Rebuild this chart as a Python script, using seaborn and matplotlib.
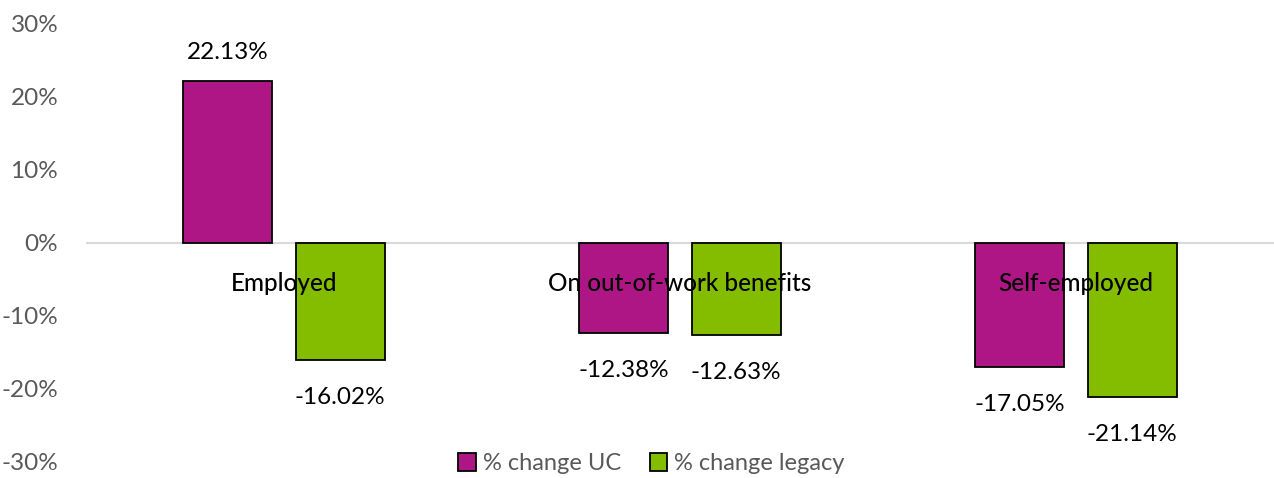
import matplotlib
matplotlib.use("Agg")
import matplotlib.pyplot as plt
import seaborn as sns
import pandas as pd

categories = ["Employed", "On out-of-work benefits", "Self-employed"]
uc_values = [22.13, -12.38, -17.05]
legacy_values = [-16.02, -12.63, -21.14]
series_names = ["% change UC", "% change legacy"]
yticks = [-30, -20, -10, 0, 10, 20, 30]

sns.set_theme(style="white")
plt.rcParams['font.family'] = ['Lato', 'DejaVu Sans']

df = pd.DataFrame({
    "category": categories * 2,
    "series": [series_names[0]] * 3 + [series_names[1]] * 3,
    "value": uc_values + legacy_values,
})

FS = 17.5
fig = plt.figure(figsize=(12.74, 4.78), dpi=100)
ax = fig.add_axes([0.0675, 0.0335, 0.9325, 0.9165])
palette = {series_names[0]: "#AF1685", series_names[1]: "#84BC00"}
sns.barplot(data=df, x="category", y="value", hue="series", order=categories,
            hue_order=series_names, palette=palette, width=0.568, gap=0.211,
            edgecolor="black", linewidth=1.3, saturation=1, ax=ax, errorbar=None)

ax.set_ylim(-30, 30)
ax.set_xlim(-0.5, 2.5)
ax.set_yticks(yticks)
ax.set_yticklabels([f"{t}%" for t in yticks], color="#595959", fontsize=FS)
ax.tick_params(axis="y", length=0, pad=20)
ax.set_xticks([])
ax.set_xlabel("")
ax.set_ylabel("")
for s in ax.spines.values():
    s.set_visible(False)
ax.axhline(0, color="#D9D9D9", lw=1.5, zorder=0)

for c in ax.containers:
    for bar in c:
        h = bar.get_height()
        x = bar.get_x() + bar.get_width() / 2
        if h >= 0:
            ax.annotate(f"{h:.2f}%", (x, h), xytext=(0, 21), textcoords="offset points",
                        ha="center", va="center", fontsize=FS, color="black")
        else:
            ax.annotate(f"{h:.2f}%", (x, h), xytext=(0, -27), textcoords="offset points",
                        ha="center", va="center", fontsize=FS, color="black")

for i, cat in enumerate(categories):
    ax.text(i, -5.5, cat, ha="center", va="center", fontsize=FS, color="black",
            fontweight="medium")

leg = ax.legend(loc="center", bbox_to_anchor=(0.476, -0.004), ncol=2, frameon=False,
                fontsize=FS - 0.5, handlelength=0.75, handleheight=0.75, handletextpad=0.3,
                columnspacing=1.2)
for t in leg.get_texts():
    t.set_color("#595959")

fig.savefig("out.png", dpi=100)
